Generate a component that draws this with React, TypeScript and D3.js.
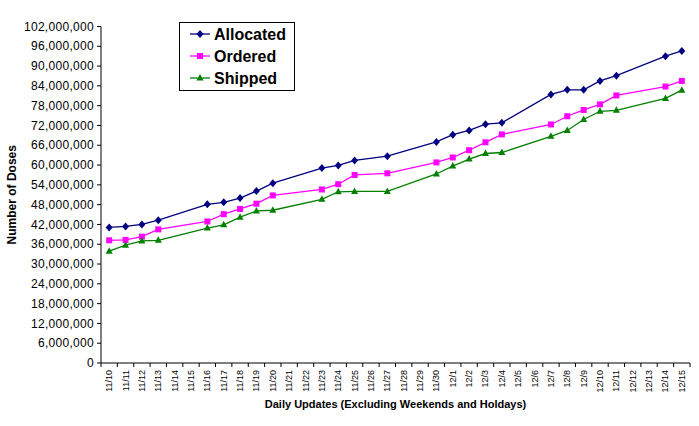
import React from "react";
import * as d3 from "d3";

const dates = [
  "11/10","11/11","11/12","11/13","11/14","11/15","11/16","11/17","11/18","11/19","11/20",
  "11/21","11/22","11/23","11/24","11/25","11/26","11/27","11/28","11/29","11/30",
  "12/1","12/2","12/3","12/4","12/5","12/6","12/7","12/8","12/9","12/10","12/11","12/12","12/13","12/14","12/15",
];

const N = null;
const allocated: (number | null)[] = [
  41.1, 41.4, 42.0, 43.3, N, N, 48.1, 48.7, 50.0, 52.1, 54.5,
  N, N, 59.1, 59.9, 61.4, N, 62.7, N, N, 67.0,
  69.2, 70.5, 72.4, 72.8, N, N, 81.4, 82.8, 82.8, 85.5, 87.1, N, N, 93.0, 94.6,
];
const ordered: (number | null)[] = [
  37.2, 37.3, 38.3, 40.5, N, N, 42.9, 45.1, 46.7, 48.3, 50.8,
  N, N, 52.6, 54.2, 57.0, N, 57.5, N, N, 60.8,
  62.3, 64.5, 66.9, 69.3, N, N, 72.3, 74.8, 76.7, 78.4, 81.1, N, N, 83.8, 85.5,
];
const shipped: (number | null)[] = [
  33.9, 35.7, 37.0, 37.2, N, N, 40.9, 41.9, 44.2, 46.1, 46.3,
  N, N, 49.6, 51.9, 52.0, N, 52.0, N, N, 57.3,
  59.7, 61.8, 63.5, 63.8, N, N, 68.7, 70.5, 73.8, 76.3, 76.6, N, N, 80.2, 82.7,
];

const yTicks = d3.range(0, 102000001, 6000000);
const seriesNames = ["Allocated", "Ordered", "Shipped"];
const seriesData = [allocated, ordered, shipped];
const colors = ["#000080", "#FF00FF", "#008000"];
const markers = ["diamond", "square", "triangle"];

const W = 699, H = 426;
const left = 101, right = 690, top = 26.5, bottom = 363;
const font = "'Liberation Sans', Arial, sans-serif";

function Marker({ type, x, y, color }: { type: string; x: number; y: number; color: string }) {
  if (type === "diamond") {
    return <path d={`M${x},${y - 4}L${x + 3.5},${y}L${x},${y + 4}L${x - 3.5},${y}Z`} fill={color} />;
  }
  if (type === "square") {
    return <rect x={x - 3} y={y - 3} width={6} height={6} fill={color} />;
  }
  return <path d={`M${x},${y - 4}L${x + 3.5},${y + 2.5}L${x - 3.5},${y + 2.5}Z`} fill={color} />;
}

export default function App() {
  const x = d3.scaleBand<string>().domain(dates).range([left, right]).padding(0);
  const y = d3.scaleLinear().domain([0, 102000000]).range([bottom, top]);
  const cx = (d: string) => (x(d) as number) + x.bandwidth() / 2;
  const fmt = d3.format(",");

  const line = d3
    .line<{ d: string; v: number }>()
    .x((p) => cx(p.d))
    .y((p) => y(p.v * 1e6));

  return (
    <svg width={W} height={H} style={{ position: "absolute", left: 0, top: 0, background: "#fff" }} fontFamily={font}>
      <rect x={0} y={0} width={W} height={H} fill="#fff" />
      {/* y axis */}
      <line x1={left} x2={left} y1={top} y2={bottom} stroke="#000" />
      {yTicks.map((t) => (
        <g key={t}>
          <line x1={left - 4} x2={left} y1={y(t)} y2={y(t)} stroke="#000" />
          <text x={left - 7} y={y(t)} dy="0.35em" textAnchor="end" fontSize={12} letterSpacing={0.3} fill="#000">
            {fmt(t)}
          </text>
        </g>
      ))}
      {/* x axis */}
      <line x1={left} x2={right} y1={bottom} y2={bottom} stroke="#000" />
      {dates.map((d, i) => (
        <line key={"t" + i} x1={x(d) as number} x2={x(d) as number} y1={bottom} y2={bottom + 4} stroke="#000" />
      ))}
      <line x1={right} x2={right} y1={bottom} y2={bottom + 4} stroke="#000" />
      {dates.map((d) => (
        <text
          key={d}
          transform={`translate(${cx(d) + 3},${370}) rotate(-90)`}
          textAnchor="end"
          fontSize={9}
          fill="#000"
        >
          {d}
        </text>
      ))}
      {/* titles */}
      <text x={(left + right) / 2} y={408} textAnchor="middle" fontSize={11} fontWeight="bold" fill="#000">
        Daily Updates (Excluding Weekends and Holdays)
      </text>
      <text
        transform={`translate(16,${(top + bottom) / 2}) rotate(-90)`}
        textAnchor="middle"
        fontSize={12}
        fontWeight="bold"
        fill="#000"
      >
        Number of Doses
      </text>
      {/* series */}
      {seriesData.map((s, si) => {
        const pts = s
          .map((v, i) => ({ d: dates[i], v: v as number }))
          .filter((p) => p.v != null);
        return (
          <g key={si}>
            <path d={line(pts) || ""} fill="none" stroke={colors[si]} strokeWidth={1.3} />
            {pts.map((p, k) => (
              <Marker key={k} type={markers[si]} x={cx(p.d)} y={y(p.v * 1e6)} color={colors[si]} />
            ))}
          </g>
        );
      })}
      {/* legend */}
      <rect x={179.5} y={22.5} width={115} height={68} fill="#fff" stroke="#000" />
      {seriesNames.map((n, i) => {
        const ly = 34 + i * 22;
        return (
          <g key={n}>
            <line x1={190} x2={210} y1={ly} y2={ly} stroke={colors[i]} strokeWidth={1.3} />
            <Marker type={markers[i]} x={200} y={ly} color={colors[i]} />
            <text x={214} y={ly} dy="0.36em" fontSize={16} fontWeight="bold" fill="#000">
              {n}
            </text>
          </g>
        );
      })}
    </svg>
  );
}
